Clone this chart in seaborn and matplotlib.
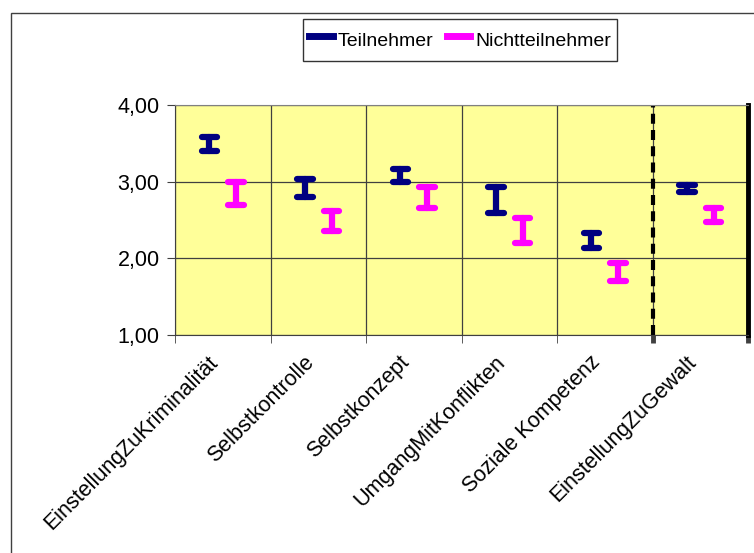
import numpy as np
import pandas as pd
import matplotlib
matplotlib.use("Agg")
import matplotlib.pyplot as plt
import matplotlib.transforms as mtransforms
from matplotlib.lines import Line2D
from matplotlib.patches import Rectangle
import seaborn as sns

# Daten
kategorien = ["EinstellungZuKriminalität", "Selbstkontrolle", "Selbstkonzept",
              "UmgangMitKonflikten", "Soziale Kompetenz", "EinstellungZuGewalt"]
teil_unten = [3.40, 2.80, 2.99, 2.59, 2.13, 2.86]
teil_oben = [3.58, 3.03, 3.16, 2.93, 2.33, 2.96]
nicht_unten = [2.70, 2.36, 2.65, 2.20, 1.70, 2.47]
nicht_oben = [2.99, 2.62, 2.93, 2.52, 1.94, 2.65]
gruppen = ["Teilnehmer", "Nichtteilnehmer"]
farben = ["#000080", "#FF00FF"]
y_ticks = [1, 2, 3, 4]

plt.rcParams["font.family"] = ["Liberation Sans", "DejaVu Sans"]
plt.rcParams["font.size"] = 14

# Long-Format: je Gruppe/Kategorie ein Unter- und ein Oberwert
rows = []
for g, lo, hi in zip(gruppen, [teil_unten, nicht_unten], [teil_oben, nicht_oben]):
    for k, l, h in zip(kategorien, lo, hi):
        rows.append({"Kategorie": k, "Gruppe": g, "Wert": l})
        rows.append({"Kategorie": k, "Gruppe": g, "Wert": h})
df = pd.DataFrame(rows)

fig = plt.figure(figsize=(7.54, 5.53), dpi=100)
ax = fig.add_axes([175 / 754, 1 - 335 / 553, (748 - 175) / 754, (335 - 105) / 553])
ax.set_facecolor("#FFFF99")

# Spannweite min..max als Fehlerbalken
sns.pointplot(data=df, x="Kategorie", y="Wert", hue="Gruppe", order=kategorien,
              hue_order=gruppen, palette=farben, dodge=0.28, errorbar=("pi", 100),
              capsize=0.16, markers="", linestyles="none",
              err_kws={"linewidth": 4.5, "solid_capstyle": "round"},
              legend=False, ax=ax)

ax.set_xlim(-0.5, len(kategorien) - 0.5)
ax.set_ylim(1, 4)
ax.set_yticks(y_ticks)
ax.set_yticklabels([f"{v:.2f}".replace(".", ",") for v in y_ticks], fontsize=15.5)
ax.set_xlabel("")
ax.set_ylabel("")

ax.set_xticks(range(len(kategorien)))
ax.set_xticklabels(kategorien, rotation=45, ha="right", va="top",
                   rotation_mode="anchor", fontsize=15.5)
ax.tick_params(axis="x", which="major", length=0, pad=12)
ax.set_xticks(np.arange(-0.5, len(kategorien), 1), minor=True)
ax.tick_params(axis="x", which="minor", length=6, color="#404040")
ax.tick_params(axis="y", length=6, color="#404040", pad=5)

# Beschriftungen etwas nach links schieben (nach tick_params!)
shift = mtransforms.ScaledTranslation(-15 / 100, 0, fig.dpi_scale_trans)
for lab in ax.get_xticklabels():
    lab.set_transform(lab.get_transform() + shift)

ax.set_axisbelow(True)
ax.grid(True, which="minor", axis="x", color="#404040", lw=0.9)
ax.grid(True, which="major", axis="y", color="#404040", lw=0.9)
ax.grid(False, which="major", axis="x")

# Trennlinie vor EinstellungZuGewalt
ax.axvline(4.5, color="black", lw=3, ls=(0, (2.4, 1.5)), zorder=1.5)
minor = ax.xaxis.get_minor_ticks()
for t in minor[-2:]:
    t.tick1line.set_markeredgewidth(3.5)
    t.tick1line.set_color("black")

for s in ["left", "bottom"]:
    ax.spines[s].set_color("#404040")
ax.spines["top"].set_color("#808080")
ax.spines["right"].set_color("black")
ax.spines["right"].set_linewidth(3.5)

handles = [Line2D([], [], color=c, lw=5) for c in farben]
leg = fig.legend(handles, gruppen, loc="center", bbox_to_anchor=(460 / 754, 1 - 40 / 553),
                 ncol=2, frameon=True, fancybox=False, edgecolor="black",
                 handlelength=1.2, handleheight=2.0, handletextpad=0.25,
                 columnspacing=0.7, borderpad=0.3, fontsize=14)
leg.get_frame().set_linewidth(1)

# Diagrammrahmen
fig.patches.append(Rectangle((11 / 754, -0.05), 1.1, (1 - 13 / 553) + 0.05,
                             transform=fig.transFigure, fill=False,
                             ec="#404040", lw=1))

fig.savefig("out.png", dpi=100)
